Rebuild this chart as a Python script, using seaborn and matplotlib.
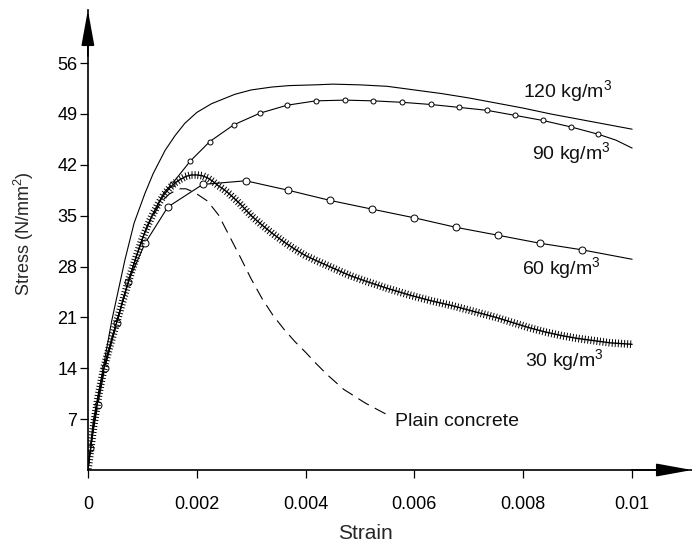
import matplotlib
matplotlib.use("Agg")
import matplotlib.pyplot as plt
import matplotlib.patheffects as pe
import seaborn as sns

# strain / stress readings (N/mm2)
strain_120 = [0, 0.0001, 0.00025, 0.00044, 0.00068, 0.00085, 0.00105, 0.0012, 0.00142,
              0.0016, 0.00178, 0.002, 0.00227, 0.0027, 0.003, 0.00338, 0.0037, 0.00417,
              0.0045, 0.005, 0.0055, 0.006, 0.0065, 0.007, 0.0075, 0.008, 0.0085, 0.009,
              0.0095, 0.01]
stress_120 = [0, 6.8, 12.8, 20.6, 28.9, 34.0, 38.1, 40.8, 44.0,
              46.0, 47.7, 49.2, 50.4, 51.7, 52.3, 52.7, 52.9, 53.0,
              53.1, 53.0, 52.8, 52.3, 51.8, 51.2, 50.5, 49.8, 49.0, 48.3,
              47.6, 46.9]

strain_90 = [0, 0.0001, 0.0002, 0.0003, 0.0004, 0.0005, 0.0006, 0.0007, 0.0008, 0.0009,
             0.001, 0.0011, 0.0012, 0.0013, 0.0014,
             0.00155, 0.00188, 0.00224, 0.00268, 0.00316, 0.00366, 0.00419, 0.00472,
             0.00524, 0.00577, 0.0063, 0.00682, 0.00733, 0.00785, 0.00836, 0.00888,
             0.00938, 0.0097, 0.01]
stress_90 = [0, 5.8, 10.5, 14.2, 17.0, 19.6, 22.2, 24.8, 27.3, 29.6,
             31.8, 33.7, 35.3, 36.8, 38.2,
             39.4, 42.5, 45.2, 47.5, 49.1, 50.2, 50.8, 50.9,
             50.8, 50.6, 50.3, 49.9, 49.5, 48.8, 48.1, 47.2,
             46.2, 45.4, 44.3]
marked_90 = list(range(15, 32))

strain_60 = [0, 0.00004, 0.00018, 0.00031, 0.00053, 0.00074, 0.00105, 0.00147, 0.00211,
             0.0029, 0.00368, 0.00445, 0.00522, 0.006, 0.00676, 0.00754, 0.00831,
             0.00908, 0.01]
stress_60 = [0, 3.0, 8.9, 14.0, 20.2, 25.9, 31.2, 36.2, 39.3,
             39.8, 38.5, 37.1, 35.9, 34.7, 33.4, 32.3, 31.2,
             30.3, 29.0]
marked_60 = list(range(1, 18))

strain_30 = [0, 0.0001, 0.0002, 0.0003, 0.0004, 0.0005, 0.0006, 0.0007, 0.0008, 0.0009,
             0.001, 0.0011, 0.0012, 0.0013, 0.0014, 0.0015, 0.0016, 0.0017, 0.0018,
             0.0019, 0.002, 0.0021, 0.0022, 0.0023, 0.0024, 0.0025, 0.0026, 0.0027,
             0.0028, 0.0029, 0.003, 0.0032, 0.0034, 0.0036, 0.0038, 0.004, 0.0042,
             0.0045, 0.0048, 0.0051, 0.0055, 0.0059, 0.0063, 0.0067, 0.0071, 0.0075,
             0.0078, 0.0081, 0.0084, 0.0087, 0.009, 0.0093, 0.0096, 0.01]
stress_30 = [0, 5.8, 10.5, 14.2, 17.0, 19.6, 22.2, 24.8, 27.3, 29.6,
             31.8, 33.7, 35.3, 36.7, 37.9, 38.8, 39.5, 40.0, 40.4,
             40.6, 40.6, 40.5, 40.2, 39.7, 39.1, 38.6, 38.0, 37.3,
             36.6, 35.8, 35.0, 33.7, 32.5, 31.4, 30.4, 29.5, 28.8,
             27.8, 26.8, 26.0, 25.0, 24.1, 23.3, 22.6, 21.8, 21.0,
             20.3, 19.6, 19.0, 18.5, 18.1, 17.8, 17.5, 17.3]

strain_plain = [0, 0.0001, 0.0002, 0.0003, 0.0004, 0.0005, 0.0006, 0.0007, 0.0008, 0.0009,
                0.001, 0.0011, 0.0012, 0.0013, 0.0014, 0.0015, 0.0016, 0.0017, 0.0018,
                0.0019, 0.002, 0.0022, 0.0024, 0.0026, 0.0028, 0.003, 0.0032, 0.0034,
                0.0036, 0.0038, 0.004, 0.0042, 0.0044, 0.0047, 0.0051, 0.0055]
stress_plain = [0, 5.8, 10.5, 14.2, 17.0, 19.6, 22.2, 24.8, 27.3, 29.6,
                31.8, 33.6, 35.0, 36.3, 37.3, 38.0, 38.4, 38.7, 38.7,
                38.4, 38.0, 37.0, 35.1, 32.2, 29.3, 26.3, 23.6, 21.3,
                19.4, 17.7, 16.2, 14.6, 13.1, 11.1, 9.2, 7.6]

labels = ["120 kg/m$^3$", "90 kg/m$^3$", "60 kg/m$^3$", "30 kg/m$^3$", "Plain concrete"]
label_pos = [(0.0080, 51.2), (0.00816, 42.6), (0.00798, 26.8), (0.00803, 14.2), (0.00564, 6.1)]

sns.set_style("ticks")
plt.rcParams["font.family"] = ["Liberation Sans", "DejaVu Sans"]
plt.rcParams["mathtext.fontset"] = "custom"
plt.rcParams["mathtext.rm"] = "Liberation Sans"

fig = plt.figure(figsize=(6.92, 5.44), dpi=100)
ax = fig.add_axes([0.127, 0.136, 0.873, 0.8456])

lw = 0.8
sns.lineplot(x=strain_120, y=stress_120, color="black", lw=lw, ax=ax)
sns.lineplot(x=strain_90, y=stress_90, color="black", lw=lw, ax=ax,
             marker="o", markersize=3.6, markerfacecolor="white",
             markeredgecolor="black", markeredgewidth=0.7, markevery=marked_90)
sns.lineplot(x=strain_60, y=stress_60, color="black", lw=lw, ax=ax,
             marker="o", markersize=5, markerfacecolor="white",
             markeredgecolor="black", markeredgewidth=0.7, markevery=marked_60)
# 30 kg/m3: dense crosses along the curve
sns.lineplot(x=strain_30, y=stress_30, color="black", lw=1.0, ax=ax,
             path_effects=[pe.TickedStroke(angle=90, spacing=2.2, length=1.15, linewidth=0.7),
                           pe.TickedStroke(angle=-90, spacing=2.2, length=1.15, linewidth=0.7),
                           pe.Normal()])
sns.lineplot(x=strain_plain, y=stress_plain, color="black", lw=lw, ax=ax,
             linestyle=(0, (11, 6)))

for txt, (tx, ty) in zip(labels, label_pos):
    ax.text(tx, ty, txt, fontsize=14, ha="left", va="baseline", color="#111111")

ax.set_xlim(0, 0.0111)
ax.set_ylim(0, 63.3)
ax.set_xticks([0, 0.002, 0.004, 0.006, 0.008, 0.01])
ax.set_xticklabels(["0", "0.002", "0.004", "0.006", "0.008", "0.01"])
ax.set_yticks([7, 14, 21, 28, 35, 42, 49, 56])
ax.tick_params(labelsize=13, length=6, width=0.9, colors="black")
ax.tick_params(axis="x", pad=13)
ax.tick_params(axis="y", pad=1.5)
ax.set_xlabel("Strain", fontsize=15)
ax.set_ylabel("Stress (N/mm$^2$)", fontsize=13)
ax.xaxis.set_label_coords(0.459, -0.118)
ax.yaxis.set_label_coords(-0.086, 0.513)
sns.despine(ax=ax)
for s in ("left", "bottom"):
    ax.spines[s].set_linewidth(1.2)
    ax.spines[s].set_color("black")

# arrow heads at the axis ends
arrow = dict(arrowstyle="-|>,head_length=1.1,head_width=0.2", mutation_scale=20,
             color="black", lw=1.2, shrinkA=0, shrinkB=0)
ax.annotate("", xy=(1, 0), xytext=(0.9, 0), xycoords="axes fraction",
            arrowprops=arrow, annotation_clip=False)
ax.annotate("", xy=(0, 1), xytext=(0, 0.9), xycoords="axes fraction",
            arrowprops=arrow, annotation_clip=False)

plt.savefig("out.png", dpi=100)
